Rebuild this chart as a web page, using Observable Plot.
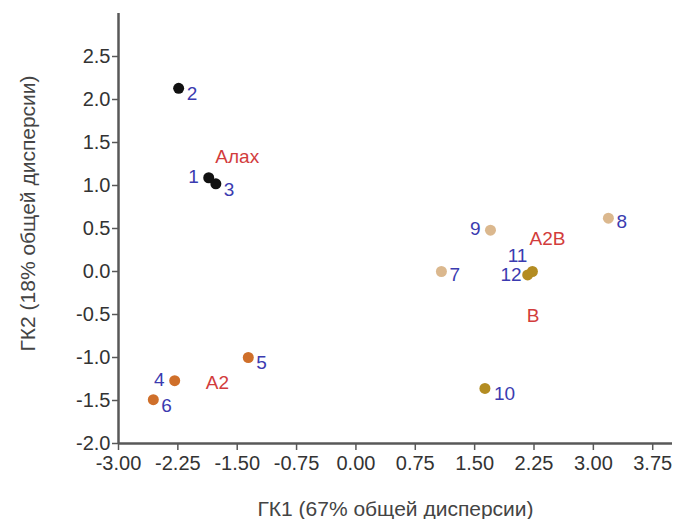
<!DOCTYPE html>
<html><head><meta charset="utf-8">
<script src="https://cdn.jsdelivr.net/npm/d3@7"></script>
<script src="https://cdn.jsdelivr.net/npm/@observablehq/plot@0.6"></script>
<style>
body{margin:0;background:#fff;}
#chart svg{font-family:"Liberation Sans",Arial,sans-serif;}
</style>
</head><body><div id="chart"></div>
<script>
// Data
const ids    = ["1","2","3","4","5","6","7","8","9","10","11","12"];
const gk1    = [-1.86,-2.24,-1.77,-2.29,-1.36,-2.56,1.08,3.19,1.70,1.63,2.23,2.17];
const gk2    = [1.09,2.13,1.02,-1.27,-1.00,-1.49,0.00,0.62,0.48,-1.36,0.00,-0.04];
const groups = ["Алах","Алах","Алах","A2","A2","A2","A2B","A2B","A2B","B","B","B"];
const groupNames = ["Алах","A2","A2B","B"];
const groupX = [-1.50,-1.75,2.42,2.24];
const groupY = [1.33,-1.29,0.38,-0.52];
const xTicks = [-3.00,-2.25,-1.50,-0.75,0.00,0.75,1.50,2.25,3.00,3.75];
const yTicks = [-2.0,-1.5,-1.0,-0.5,0.0,0.5,1.0,1.5,2.0,2.5];
const xTitle = "ГК1 (67% общей дисперсии)";
const yTitle = "ГК2 (18% общей дисперсии)";

// styles
const groupColors = {"Алах":"#111111","A2":"#cf6f2a","A2B":"#dbb88e","B":"#b38c22"};
const labelPlace = {
  "1":["end",-10,-1],"2":["start",8,6],"3":["start",8,6],"4":["end",-10,-1],
  "5":["start",8,5],"6":["start",8,6],"7":["start",8,3],"8":["start",8,4],
  "9":["end",-10,-1],"10":["start",9,5],"11":["end",-5,-16],"12":["end",-6,0]
};

const points = ids.map((id,i)=>({id, x:gk1[i], y:gk2[i], g:groups[i]}));
const gl = groupNames.map((n,i)=>({n, x:groupX[i], y:groupY[i]}));
const fmt2 = d => d.toFixed(2);
const fmt1 = d => d.toFixed(1);
const axisColor = "#585858";

const chart = Plot.plot({
  width: 677, height: 519,
  marginLeft: 118, marginRight: 5, marginTop: 13, marginBottom: 76,
  x: {domain: [-3, 4], axis: null},
  y: {domain: [-2, 3], axis: null},
  marks: [
    Plot.axisX(xTicks, {tickSize: 7, tickPadding: 5, tickFormat: fmt2, fontSize: 20, fill: "#333", stroke: axisColor, strokeWidth: 1.5, label: null}),
    Plot.axisY(yTicks, {tickSize: 6, tickPadding: 2, tickFormat: fmt1, fontSize: 20, fill: "#333", stroke: axisColor, strokeWidth: 1.5, label: null}),
    Plot.ruleX([-3], {stroke: axisColor, strokeWidth: 2.5}),
    Plot.ruleY([-2], {stroke: axisColor, strokeWidth: 2.5}),
    Plot.text([xTitle], {frameAnchor: "bottom", textAnchor: "middle", dy: 72, text: d=>d, fontSize: 21, fill: "#444"}),
    Plot.text([yTitle], {frameAnchor: "left", textAnchor: "middle", dx: -90, dy: -15, rotate: -90, text: d=>d, fontSize: 21, fill: "#444"}),
    Plot.dot(points, {x:"x", y:"y", r: 5.5, fill: d=>groupColors[d.g], stroke: null}),
    ...points.map(p => Plot.text([p], {x:"x", y:"y", text:"id", textAnchor: labelPlace[p.id][0], dx: labelPlace[p.id][1], dy: labelPlace[p.id][2], fontSize: 19, fill: "#3b3bb0"})),
    Plot.text(gl, {x:"x", y:"y", text:"n", fontSize: 19, fill: "#d23c3c"})
  ]
});
document.getElementById("chart").appendChild(chart);
</script>
</body></html>
